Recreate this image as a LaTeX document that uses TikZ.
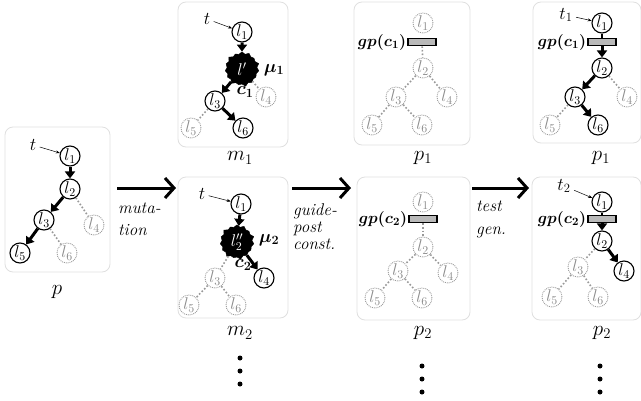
\documentclass[tikz,border=0pt]{standalone}
\usepackage{fix-cm}
\usepackage{amsmath,bm}
\usetikzlibrary{arrows.meta,shapes.symbols}
\begin{document}
\begin{tikzpicture}[x=1pt,y=-1pt,
  nd/.style={circle,draw=black,line width=1.1pt,minimum size=20pt,inner sep=0pt,font=\fontsize{17}{18}\selectfont},
  gn/.style={circle,draw=gray!80,densely dotted,line width=0.9pt,text=gray!90,minimum size=20pt,inner sep=0pt,font=\fontsize{17}{18}\selectfont},
  burst/.style={starburst,starburst points=15,starburst point height=3pt,fill=black,draw=black,text=white,minimum size=36pt,inner sep=0pt,font=\fontsize{17}{18}\selectfont},
  ar/.style={line width=3pt,-{Triangle[length=7pt,width=10pt]}},
  dt/.style={gray!80,dotted,line width=1.6pt},
  tar/.style={line width=0.5pt,-{Stealth[length=4pt,width=3pt]}},
  panel/.style={draw=gray!25,line width=0.8pt,rounded corners=8pt},
  gpbox/.style={draw=black,fill=gray!55,line width=1.6pt,minimum width=28pt,minimum height=7pt,inner sep=0pt},
  lab/.style={font=\fontsize{21}{22}\selectfont},
  sm/.style={font=\fontsize{18}{19}\selectfont},
  gpl/.style={font=\fontsize{16}{17}\selectfont,anchor=east,inner sep=1pt},
  big/.style={line width=3pt,-{Straight Barb[length=9pt,width=20pt,line width=3pt]}},
  ann/.style={font=\fontsize{17}{17}\selectfont\itshape,align=left,anchor=north west,inner sep=0pt},
  dot/.style={fill=black,circle,inner sep=0pt,minimum size=5pt}
]
\useasboundingbox (0,0) rectangle (641,400);
% panels
\draw[panel] (5,127) rectangle (110,272);
\draw[panel] (178,2) rectangle (288,147);
\draw[panel] (178,177) rectangle (288,318);
\draw[panel] (354,2) rectangle (470,145);
\draw[panel] (357,177) rectangle (470,320);
\draw[panel] (533,2) rectangle (641,143);
\draw[panel] (532,177) rectangle (641,320);

% ---------- p ----------
\node[sm] (pt) at (33,145) {$t$};
\node[nd] (p1) at (70,156) {$l_1$};
\node[nd] (p2) at (70,189) {$l_2$};
\node[nd] (p3) at (44,220) {$l_3$};
\node[gn] (p4) at (94,225) {$l_4$};
\node[nd] (p5) at (20,253) {$l_5$};
\node[gn] (p6) at (67,253) {$l_6$};
\draw[tar] (pt) -- (p1);
\draw[ar] (p1) -- (p2);
\draw[ar] (p2) -- (p3);
\draw[ar] (p3) -- (p5);
\draw[dt] (p2) -- (p4);
\draw[dt] (p3) -- (p6);
\node[lab] (pl) at (57,292) {$p$};

% ---------- m1 ----------
\node[sm] (at) at (207,19) {$t$};
\node[nd] (a1) at (242,32) {$l_1$};
\node[burst] (a2) at (242,69) {$l'$};
\node[sm] (amu) at (274,70) {$\bm{\mu_1}$};
\node[nd] (a3) at (215,101) {$l_3$};
\node[gn] (a4) at (266,97) {$l_4$};
\node[gn] (a5) at (191,128) {$l_5$};
\node[nd] (a6) at (243,128) {$l_6$};
\draw[tar] (at) -- (a1);
\draw[ar] (a1) -- (a2);
\draw[ar] (a2) -- (a3);
\node[sm] (ac) at (245,92) {$\bm{c_1}$};
\draw[ar] (a3) -- (a6);
\draw[dt] (a2) -- (a4);
\draw[dt] (a3) -- (a5);
\node[lab] (al) at (240,158) {$m_1$};

% ---------- m2 ----------
\node[sm] (bt) at (202,194) {$t$};
\node[nd] (b1) at (241,204) {$l_1$};
\node[burst] (b2) at (237,242) {$l''_2$};
\node[sm] (bmu) at (269,240) {$\bm{\mu_2}$};
\node[gn] (b3) at (215,278) {$l_3$};
\node[nd] (b4) at (264,278) {$l_4$};
\node[gn] (b5) at (189,305) {$l_5$};
\node[gn] (b6) at (236,305) {$l_6$};
\draw[tar] (bt) -- (b1);
\draw[ar] (b1) -- (b2);
\draw[ar] (b2) -- (b4);
\node[sm] (bc) at (243,265) {$\bm{c_2}$};
\draw[dt] (b2) -- (b3);
\draw[dt] (b3) -- (b5);
\draw[dt] (b3) -- (b6);
\node[lab] (bl) at (240,333) {$m_2$};

% ---------- p1 (middle) ----------
\node[gn] (c1) at (423,23) {$l_1$};
\node[gpbox] (cg) at (422,42) {};
\node[gpl] (cgl) at (cg.west) {$\bm{gp(c_1)}$};
\node[gn] (c2) at (423,68) {$l_2$};
\node[gn] (c3) at (396,97) {$l_3$};
\node[gn] (c4) at (447,97) {$l_4$};
\node[gn] (c5) at (372,125) {$l_5$};
\node[gn] (c6) at (422,125) {$l_6$};
\draw[dt] (cg) -- (c2);
\draw[dt] (c2) -- (c3);
\draw[dt] (c2) -- (c4);
\draw[dt] (c3) -- (c5);
\draw[dt] (c3) -- (c6);
\node[lab] (cl) at (423,158) {$p_1$};

% ---------- p2 (middle) ----------
\node[gn] (d1) at (423,202) {$l_1$};
\node[gpbox] (dg) at (423,219) {};
\node[gpl] (dgl) at (dg.west) {$\bm{gp(c_2)}$};
\node[gn] (d2) at (423,247) {$l_2$};
\node[gn] (d3) at (398,271) {$l_3$};
\node[gn] (d4) at (448,273) {$l_4$};
\node[gn] (d5) at (375,298) {$l_5$};
\node[gn] (d6) at (422,298) {$l_6$};
\draw[dt] (dg) -- (d2);
\draw[dt] (d2) -- (d3);
\draw[dt] (d2) -- (d4);
\draw[dt] (d3) -- (d5);
\draw[dt] (d3) -- (d6);
\node[lab] (dl) at (423,333) {$p_2$};

% ---------- p1 (right) ----------
\node[sm] (et) at (566,15) {$t_1$};
\node[nd] (e1) at (602,23) {$l_1$};
\node[gpbox] (eg) at (602,42) {};
\node[gpl] (egl) at (eg.west) {$\bm{gp(c_1)}$};
\node[nd] (e2) at (602,68) {$l_2$};
\node[nd] (e3) at (575,97) {$l_3$};
\node[gn] (e4) at (627,97) {$l_4$};
\node[gn] (e5) at (550,125) {$l_5$};
\node[nd] (e6) at (598,125) {$l_6$};
\draw[tar] (et) -- (e1);
\draw[line width=1.5pt] (e1) -- (eg);
\draw[ar] (eg) -- (e2);
\draw[ar] (e2) -- (e3);
\draw[ar] (e3) -- (e6);
\draw[dt] (e2) -- (e4);
\draw[dt] (e3) -- (e5);
\node[lab] (el) at (601,158) {$p_1$};

% ---------- p2 (right) ----------
\node[sm] (ft) at (564,186) {$t_2$};
\node[nd] (f1) at (602,202) {$l_1$};
\node[gpbox] (fg) at (602,219) {};
\node[gpl] (fgl) at (fg.west) {$\bm{gp(c_2)}$};
\node[nd] (f2) at (602,241) {$l_2$};
\node[gn] (f3) at (578,267) {$l_3$};
\node[nd] (f4) at (624,271) {$l_4$};
\node[gn] (f5) at (552,297) {$l_5$};
\node[gn] (f6) at (598,297) {$l_6$};
\draw[tar] (ft) -- (f1);
\draw[line width=1.5pt] (f1) -- (fg);
\draw[ar] (fg) -- (f2);
\draw[ar] (f2) -- (f4);
\draw[dt] (f2) -- (f3);
\draw[dt] (f3) -- (f5);
\draw[dt] (f3) -- (f6);
\node[lab] (fl) at (602,333) {$p_2$};

% ---------- big arrows ----------
\coordinate (g1s) at (117,188); \coordinate (g1e) at (176,188);
\coordinate (g2s) at (292,188); \coordinate (g2e) at (351,188);
\coordinate (g3s) at (472,188); \coordinate (g3e) at (529,188);
\draw[big] (g1s) -- (g1e);
\draw[big] (g2s) -- (g2e);
\draw[big] (g3s) -- (g3e);
\node[ann] (m) at (118,203) {muta-\\[5pt]tion};
\node[ann] (g) at (293,203) {guide-\\post\\const.};
\node[ann] (tg) at (476,201) {test\\[6pt]gen.};

% ---------- dots ----------
\foreach \y in {358,371,384} \node[dot] at (240,\y) {};
\foreach \y in {366,379,392} \node[dot] at (422,\y) {};
\foreach \y in {366,379,392} \node[dot] at (600,\y) {};
\end{tikzpicture}
\end{document}
